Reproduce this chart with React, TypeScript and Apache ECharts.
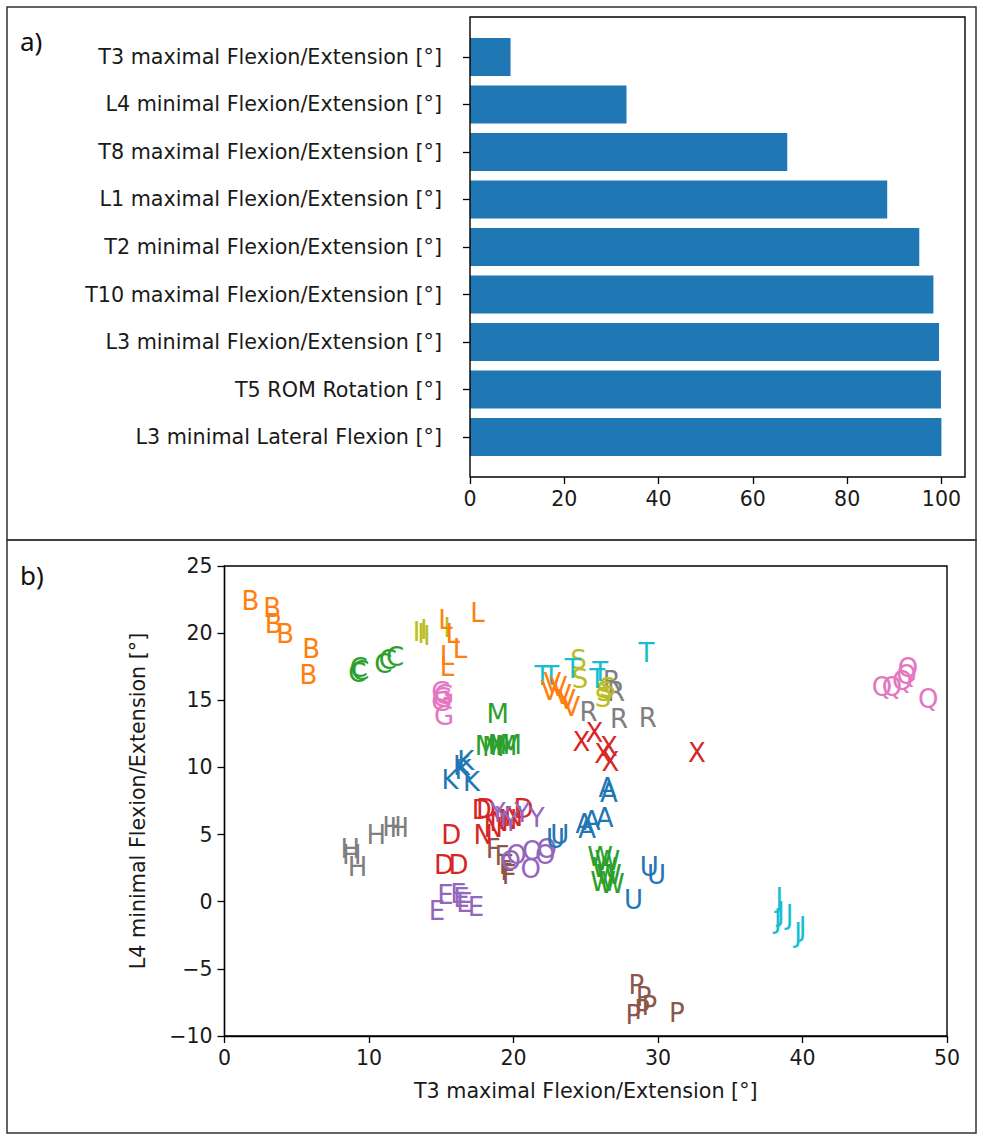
import React, { useEffect, useRef } from "react";
import * as echarts from "echarts";

// ---- Panel a) data ----
const barCategories = [
  "T3 maximal Flexion/Extension [°]",
  "L4 minimal Flexion/Extension [°]",
  "T8 maximal Flexion/Extension [°]",
  "L1 maximal Flexion/Extension [°]",
  "T2 minimal Flexion/Extension [°]",
  "T10 maximal Flexion/Extension [°]",
  "L3 minimal Flexion/Extension [°]",
  "T5 ROM Rotation [°]",
  "L3 minimal Lateral Flexion [°]",
];
const barValues = [8.6, 33.2, 67.3, 88.5, 95.3, 98.3, 99.5, 99.9, 100];
const barTicks = [0, 20, 40, 60, 80, 100];

// ---- Panel b) data (x: T3 maximal F/E, y: L4 minimal F/E) ----
const ptsA = [[26.5, 8.5], [26.6, 8.1], [26.3, 6.2], [24.9, 5.8], [25.1, 5.4], [25.4, 6.0]];
const ptsB = [[1.8, 22.4], [3.3, 21.9], [3.4, 20.7], [4.2, 19.9], [6.0, 18.8], [5.8, 16.9]];
const ptsC = [[9.2, 17.0], [9.3, 17.4], [9.4, 17.2], [11.0, 17.7], [11.3, 18.0], [11.8, 18.2]];
const ptsD = [[15.7, 5.0], [15.2, 2.7], [16.2, 2.7], [17.8, 6.8], [18.1, 6.9], [20.7, 6.9]];
const ptsE = [[14.7, -0.7], [15.3, 0.5], [16.2, 0.6], [16.4, 0.3], [16.6, -0.1], [17.4, -0.4]];
const ptsF = [[18.6, 3.9], [19.2, 3.4], [19.6, 2.3], [19.7, 2.0], [19.5, 2.7]];
const ptsG = [[15.0, 15.6], [15.1, 15.2], [15.0, 14.9], [15.2, 15.4], [15.2, 13.8]];
const ptsH = [[8.7, 3.9], [8.8, 3.5], [9.2, 2.6], [10.5, 5.0], [11.6, 5.6], [12.1, 5.5]];
const ptsI = [[13.3, 20.1], [13.6, 19.9], [13.8, 20.2], [14.0, 19.8], [15.4, 20.4]];
const ptsJ = [[38.4, 0.3], [38.3, -1.3], [38.5, -0.8], [39.1, -1.0], [39.7, -2.3], [40.0, -1.9]];
const ptsK = [[16.4, 10.1], [16.7, 10.5], [15.6, 9.1], [17.1, 8.9], [16.5, 9.8]];
const ptsL = [[15.3, 21.0], [17.5, 21.5], [15.8, 19.9], [16.3, 18.8], [15.4, 18.3], [15.4, 17.5]];
const ptsM = [[18.9, 14.0], [18.1, 11.6], [18.6, 11.5], [19.0, 11.7], [19.5, 11.6], [19.8, 11.7]];
const ptsN = [[17.9, 5.0], [19.0, 5.9], [19.6, 6.1], [20.0, 6.3], [18.6, 5.5]];
const ptsO = [[19.8, 3.0], [20.2, 3.5], [21.3, 3.8], [21.2, 2.4], [22.2, 3.5], [22.3, 3.9]];
const ptsP = [[28.5, -6.2], [29.0, -7.1], [29.4, -7.8], [28.3, -8.4], [28.9, -8.1], [31.3, -8.3]];
const ptsQ = [[45.5, 16.0], [46.2, 16.0], [46.9, 16.4], [47.2, 16.9], [47.3, 17.4], [48.7, 15.1]];
const ptsR = [[26.8, 16.4], [27.1, 15.6], [25.2, 14.1], [27.3, 13.6], [29.3, 13.7]];
const ptsS = [[24.5, 18.0], [26.3, 15.6], [26.5, 15.9], [26.2, 15.2], [24.6, 16.6]];
const ptsT = [[29.2, 18.5], [22.0, 16.8], [22.6, 16.8], [24.1, 17.3], [26.0, 17.1], [25.8, 16.6]];
const ptsU = [[22.9, 4.7], [23.2, 5.0], [29.4, 2.6], [29.9, 2.0], [28.3, 0.1]];
const ptsV = [[22.5, 15.7], [22.7, 16.3], [23.1, 16.0], [23.4, 15.4], [23.7, 15.0], [24.0, 14.5]];
const ptsW = [[26.0, 3.3], [26.3, 2.5], [26.6, 2.0], [26.2, 1.5], [26.8, 1.3], [26.5, 3.0]];
const ptsX = [[24.7, 11.9], [25.6, 12.6], [26.2, 11.0], [26.6, 11.5], [26.7, 10.4], [32.7, 11.1]];
const ptsY = [[18.9, 6.6], [19.3, 6.3], [20.6, 6.6], [21.6, 6.2], [19.8, 5.9]];

const letters = "ABCDEFGHIJKLMNOPQRSTUVWXY".split("");
const letterPoints = [
  ptsA, ptsB, ptsC, ptsD, ptsE, ptsF, ptsG, ptsH, ptsI, ptsJ, ptsK, ptsL, ptsM,
  ptsN, ptsO, ptsP, ptsQ, ptsR, ptsS, ptsT, ptsU, ptsV, ptsW, ptsX, ptsY,
];
const tab10 = [
  "#1f77b4", "#ff7f0e", "#2ca02c", "#d62728", "#9467bd",
  "#8c564b", "#e377c2", "#7f7f7f", "#bcbd22", "#17becf",
];

const FONT = "DejaVu Sans";
const TXT = "#1a1a1a";

export default function App() {
  const ref = useRef<HTMLDivElement>(null);

  useEffect(() => {
    if (!ref.current) return;
    const chart = echarts.init(ref.current, undefined, { renderer: "svg" });

    // Panel a geometry (matplotlib-like margins around categories)
    const aTop = 17, aBottom = 477, aLeft = 470, aRight = 965;
    const unit = (aBottom - aTop) / 9.68;
    const catTop = aTop + 0.34 * unit;
    const catHeight = 9 * unit;

    // Panel b geometry
    const bLeft = 224.5, bRight = 947, bTop = 566, bBottom = 1036;

    const letterSeries = letters.map((ch, i) => ({
      type: "custom",
      name: ch,
      coordinateSystem: "cartesian2d",
      xAxisIndex: 1,
      yAxisIndex: 1,
      data: letterPoints[i],
      encode: { x: 0, y: 1 },
      renderItem: (params: any, api: any) => {
        const p = api.coord([api.value(0), api.value(1)]);
        return {
          type: "text",
          x: p[0],
          y: p[1],
          style: {
            text: ch,
            fill: tab10[i % 10],
            fontSize: 26,
            fontFamily: FONT,
            align: "center",
            verticalAlign: "middle",
          },
        };
      },
    }));

    const minus = (v: number) => (v < 0 ? "\u2212" + Math.abs(v) : String(v));

    chart.setOption({
      animation: false,
      backgroundColor: "#ffffff",
      grid: [
        { left: aLeft, top: catTop, width: aRight - aLeft, height: catHeight },
        { left: bLeft, top: bTop, width: bRight - bLeft, height: bBottom - bTop },
      ],
      xAxis: [
        {
          gridIndex: 0,
          type: "value",
          min: 0,
          max: 105,
          offset: aBottom - (catTop + catHeight),
          splitLine: { show: false },
          axisLine: { show: false },
          axisTick: { show: true, customValues: barTicks, length: 7, lineStyle: { color: "#000", width: 1.3 } },
          axisLabel: { customValues: barTicks, margin: 11, color: TXT, fontSize: 20.5, fontFamily: FONT },
        },
        {
          gridIndex: 1,
          type: "value",
          min: 0,
          max: 50,
          interval: 10,
          splitLine: { show: false },
          axisLine: { show: true, onZero: false, lineStyle: { color: "#000", width: 1.3 } },
          axisTick: { show: true, length: 7, lineStyle: { color: "#000", width: 1.3 } },
          axisLabel: { margin: 11, color: TXT, fontSize: 20.5, fontFamily: FONT },
          name: "T3 maximal Flexion/Extension [°]",
          nameLocation: "middle",
          nameGap: 44,
          nameTextStyle: { color: TXT, fontSize: 20.7, fontFamily: FONT },
        },
      ],
      yAxis: [
        {
          gridIndex: 0,
          type: "category",
          inverse: true,
          data: barCategories,
          axisLine: { show: false },
          axisTick: { show: true, alignWithLabel: true, length: 7, lineStyle: { color: "#000", width: 1.3 } },
          axisLabel: { margin: 28, color: TXT, fontSize: 20.7, fontFamily: FONT },
        },
        {
          gridIndex: 1,
          type: "value",
          min: -10,
          max: 25,
          interval: 5,
          splitLine: { show: false },
          axisLine: { show: true, onZero: false, lineStyle: { color: "#000", width: 1.3 } },
          axisTick: { show: true, length: 7, lineStyle: { color: "#000", width: 1.3 } },
          axisLabel: { margin: 12, color: TXT, fontSize: 20.5, fontFamily: FONT, formatter: minus },
          name: "L4 minimal Flexion/Extension [°]",
          nameLocation: "middle",
          nameGap: 76,
          nameRotate: 90,
          nameTextStyle: { color: TXT, fontSize: 20.7, fontFamily: FONT },
        },
      ],
      series: [
        {
          type: "bar",
          xAxisIndex: 0,
          yAxisIndex: 0,
          data: barValues,
          barWidth: "80%",
          itemStyle: { color: "#1f77b4" },
        },
        ...letterSeries,
      ],
      graphic: [
        // outer frames of the two panels
        { type: "rect", shape: { x: 7, y: 7, width: 969, height: 533 }, style: { fill: "none", stroke: "#333", lineWidth: 1.5 }, silent: true },
        { type: "rect", shape: { x: 7, y: 540, width: 969, height: 593 }, style: { fill: "none", stroke: "#333", lineWidth: 1.5 }, silent: true },
        // plot frames
        { type: "rect", shape: { x: aLeft, y: aTop, width: aRight - aLeft, height: aBottom - aTop }, style: { fill: "none", stroke: "#000", lineWidth: 1.4 }, z: 100, silent: true },
        { type: "rect", shape: { x: bLeft, y: bTop, width: bRight - bLeft, height: bBottom - bTop }, style: { fill: "none", stroke: "#000", lineWidth: 1.4 }, z: 100, silent: true },
        { type: "text", left: 20, top: 28, style: { text: "a)", fontSize: 26, fontFamily: "Noto Sans", fill: "#111" } },
        { type: "text", left: 20, top: 562, style: { text: "b)", fontSize: 26, fontFamily: "Noto Sans", fill: "#111" } },
      ],
    });

    return () => chart.dispose();
  }, []);

  return (
    <div
      ref={ref}
      style={{ position: "absolute", left: 0, top: 0, width: 983, height: 1140, background: "#fff" }}
    />
  );
}
